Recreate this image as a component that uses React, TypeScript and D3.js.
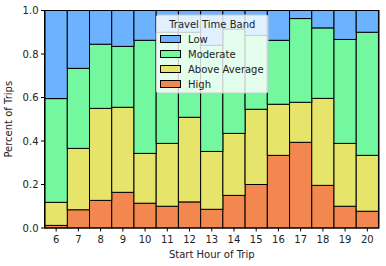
import * as d3 from 'd3';

const HOURS = [6, 7, 8, 9, 10, 11, 12, 13, 14, 15, 16, 17, 18, 19, 20];
const BANDS = ['High', 'Above Average', 'Moderate', 'Low'];
const COLORS = ['#f2874f', '#e6e46b', '#73f8a0', '#6cb2ff'];

// share of trips per hour for each band
const HIGH = [0.012, 0.084, 0.127, 0.164, 0.114, 0.1, 0.12, 0.086, 0.15, 0.2, 0.334, 0.394, 0.196, 0.1, 0.077];
const ABOVE_AVG = [0.106, 0.282, 0.423, 0.391, 0.229, 0.289, 0.389, 0.266, 0.285, 0.346, 0.235, 0.184, 0.4, 0.289, 0.257];
const MODERATE = [0.477, 0.368, 0.295, 0.28, 0.52, 0.511, 0.391, 0.488, 0.48, 0.339, 0.294, 0.385, 0.324, 0.478, 0.566];
const LOW = [0.405, 0.266, 0.155, 0.165, 0.137, 0.1, 0.1, 0.16, 0.085, 0.115, 0.137, 0.037, 0.08, 0.133, 0.1];

const Y_TICKS = [0, 0.2, 0.4, 0.6, 0.8, 1.0];

const WIDTH = 386;
const HEIGHT = 266;
const MARGIN = { top: 10.5, right: 7, bottom: 38, left: 44.5 };
const FONT = 'DejaVu Sans, sans-serif';

export default function App() {
    const boundsWidth = WIDTH - MARGIN.left - MARGIN.right;
    const boundsHeight = HEIGHT - MARGIN.top - MARGIN.bottom;

    const rows = HOURS.map((h, i) => ({
        hour: String(h),
        High: HIGH[i],
        'Above Average': ABOVE_AVG[i],
        Moderate: MODERATE[i],
        Low: LOW[i],
    }));

    const series = d3.stack<any>().keys(BANDS)(rows);

    const xScale = d3
        .scaleBand()
        .domain(HOURS.map(String))
        .range([0, boundsWidth])
        .paddingInner(0)
        .paddingOuter(0.025);

    const yScale = d3.scaleLinear().domain([0, 1]).range([boundsHeight, 0]);

    // legend is drawn top to bottom: Low first
    const legendItems = BANDS.map((b, i) => ({ name: b, color: COLORS[i] })).reverse();

    return (
        <svg width={WIDTH} height={HEIGHT} style={{ position: 'absolute', left: 0, top: 0 }}>
            <rect width={WIDTH} height={HEIGHT} fill="white" />
            <g transform={`translate(${MARGIN.left},${MARGIN.top})`}>
                {series.map((s, si) => (
                    <g key={s.key} fill={COLORS[si]}>
                        {s.map((d: any, i: number) => (
                            <rect
                                key={i}
                                x={xScale(d.data.hour)}
                                y={yScale(d[1])}
                                width={xScale.bandwidth()}
                                height={yScale(d[0]) - yScale(d[1])}
                                stroke="black"
                                strokeWidth={1}
                            />
                        ))}
                    </g>
                ))}

                {/* frame */}
                <rect x={0} y={0} width={boundsWidth} height={boundsHeight} fill="none" stroke="black" strokeWidth={1} />

                {/* y axis */}
                {Y_TICKS.map((t) => (
                    <g key={t} transform={`translate(0,${yScale(t)})`}>
                        <line x1={-3.5} x2={0} stroke="black" />
                        <text x={-6} dy="0.35em" textAnchor="end" fontSize={10} fontFamily={FONT} fill="#222">
                            {t.toFixed(1)}
                        </text>
                    </g>
                ))}

                {/* x axis */}
                {HOURS.map((h) => {
                    const cx = (xScale(String(h)) ?? 0) + xScale.bandwidth() / 2;
                    return (
                        <g key={h} transform={`translate(${cx},${boundsHeight})`}>
                            <line y1={0} y2={3.5} stroke="black" />
                            <text y={15} textAnchor="middle" fontSize={10} fontFamily={FONT} fill="#222">
                                {h}
                            </text>
                        </g>
                    );
                })}

                <text
                    x={boundsWidth / 2}
                    y={boundsHeight + 30}
                    textAnchor="middle"
                    fontSize={10}
                    fontFamily={FONT}
                    fill="#222"
                >
                    Start Hour of Trip
                </text>
                <text
                    transform={`translate(${-33},${boundsHeight / 2}) rotate(-90)`}
                    textAnchor="middle"
                    fontSize={10}
                    fontFamily={FONT}
                    fill="#222"
                >
                    Percent of Trips
                </text>

                {/* legend */}
                <g transform={`translate(${156.5 - MARGIN.left},${15 - MARGIN.top})`}>
                    <rect width={111.5} height={78} rx={2} fill="white" fillOpacity={0.8} stroke="#cccccc" strokeWidth={1} />
                    <text x={55.75} y={12.5} textAnchor="middle" fontSize={10} fontFamily={FONT} fill="#222">
                        Travel Time Band
                    </text>
                    {legendItems.map((it, i) => (
                        <g key={it.name} transform={`translate(4,${20.5 + i * 15})`}>
                            <rect width={20} height={7} fill={it.color} stroke="black" strokeWidth={1} />
                            <text x={27.5} y={7.5} fontSize={10} fontFamily={FONT} fill="#222">
                                {it.name}
                            </text>
                        </g>
                    ))}
                </g>
            </g>
        </svg>
    );
}
